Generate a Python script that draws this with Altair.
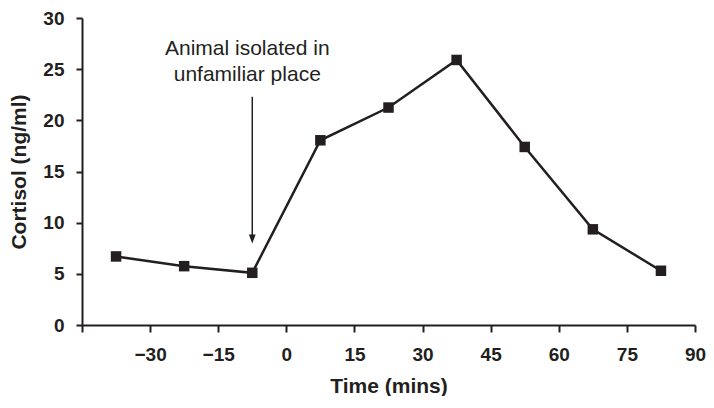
import altair as alt
import pandas as pd

time_mins = [-37.5, -22.5, -7.5, 7.5, 22.5, 37.5, 52.5, 67.5, 82.5]
cortisol = [6.7, 5.75, 5.1, 18.05, 21.25, 25.9, 17.4, 9.35, 5.3]
x_ticks = [-45, -30, -15, 0, 15, 30, 45, 60, 75, 90]
y_ticks = [0, 5, 10, 15, 20, 25, 30]
note_lines = ["Animal isolated in", "unfamiliar place"]
note_x = [-8.6, -8.6]
note_y = [26.4, 23.8]
arrow_x = [-7.5]
arrow_top = [22.3]
arrow_head = [8.4]

INK = "#231f20"
FONT = "Liberation Sans, Arial, sans-serif"

df = pd.DataFrame({"t": time_mins, "c": cortisol})
notes = pd.DataFrame({"label": note_lines, "x": note_x, "y": note_y})
arrow = pd.DataFrame({"x": arrow_x, "y": arrow_top, "y2": arrow_head})

xs = alt.Scale(domain=[-45, 90], nice=False, zero=False)
ys = alt.Scale(domain=[0, 30], nice=False)

x_axis = alt.Axis(values=x_ticks, title="Time (mins)", grid=False, labelFlush=False,
                  labelExpr="datum.value == -45 ? '' : replace(datum.label, '-', '\u2013')",
                  tickSize=7, labelPadding=13, titlePadding=11)
y_axis = alt.Axis(values=y_ticks, title="Cortisol (ng/ml)", grid=False, labelFlush=False,
                  tickSize=6, labelPadding=12, titlePadding=13)

line = alt.Chart(df).mark_line(color=INK, strokeWidth=2.5).encode(
    x=alt.X("t:Q", scale=xs, axis=x_axis),
    y=alt.Y("c:Q", scale=ys, axis=y_axis),
)
pts = alt.Chart(df).mark_point(shape="square", filled=True, opacity=1, size=110, color=INK).encode(
    x=alt.X("t:Q", scale=xs), y=alt.Y("c:Q", scale=ys)
)
rule = alt.Chart(arrow).mark_rule(color=INK, strokeWidth=1.5).encode(
    x=alt.X("x:Q", scale=xs), y=alt.Y("y:Q", scale=ys), y2="y2:Q"
)
head = alt.Chart(arrow).mark_point(shape="M-0.75,-1L0.75,-1L0,1Z", filled=True, opacity=1,
                                   size=81, color=INK).encode(
    x=alt.X("x:Q", scale=xs), y=alt.Y("y2:Q", scale=ys)
)
text = alt.Chart(notes).mark_text(font=FONT, fontSize=21, color=INK, align="center",
                                  baseline="alphabetic").encode(
    x=alt.X("x:Q", scale=xs), y=alt.Y("y:Q", scale=ys), text="label:N"
)

chart = alt.layer(line, rule, head, pts, text).properties(
    width=613, height=307,
    autosize=alt.AutoSizeParams(type="none"),
    padding={"left": 74, "top": 10, "right": 11, "bottom": 71},
).configure_view(stroke=None).configure_axis(
    domainColor=INK, domainWidth=2, tickColor=INK, tickWidth=2,
    labelFont=FONT, labelFontSize=19, labelFontWeight="bold", labelColor=INK,
    titleFont=FONT, titleFontSize=21, titleFontWeight="bold", titleColor=INK,
)

chart.save("out.html", embed_options={"renderer": "svg", "actions": False})
